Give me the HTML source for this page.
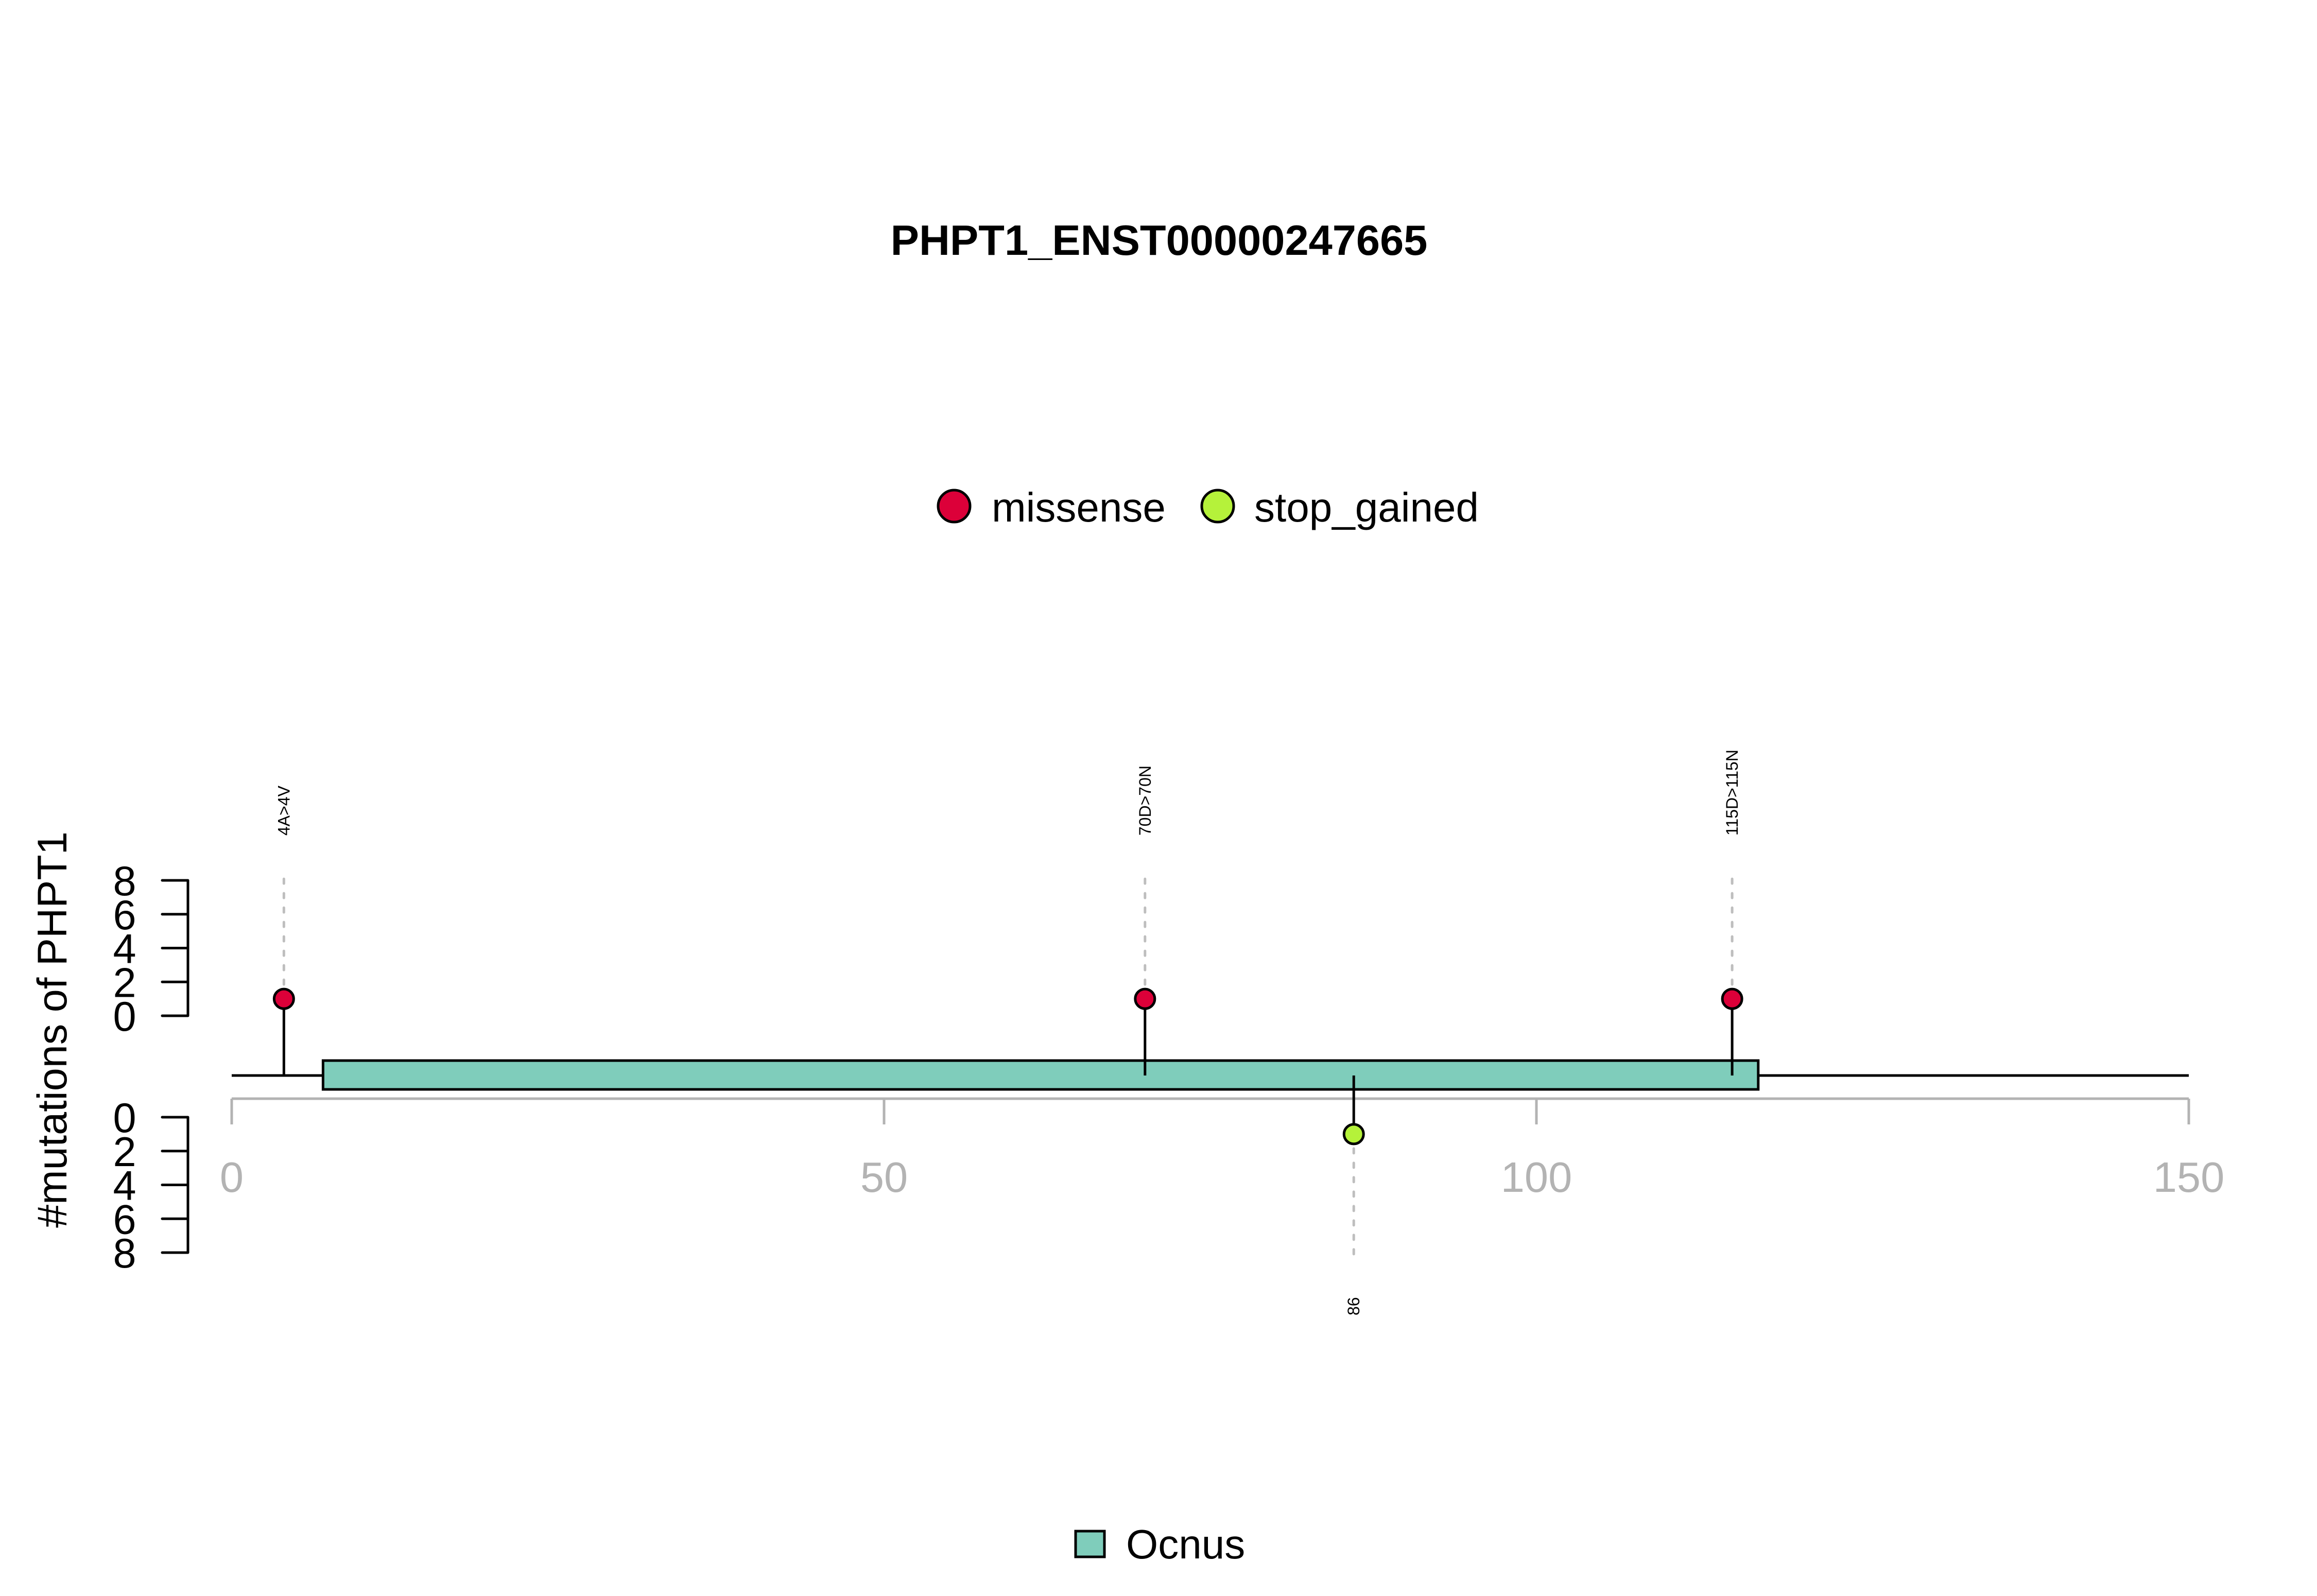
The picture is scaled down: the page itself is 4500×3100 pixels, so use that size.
<!DOCTYPE html>
<html><head><meta charset="utf-8"><style>
html,body{margin:0;padding:0;background:#fff}
svg{display:block}
text{font-family:"Liberation Sans",Arial,sans-serif}
</style></head><body>
<svg id="chart" width="4500" height="3100" viewBox="0 0 4500 3100" xmlns="http://www.w3.org/2000/svg">
<rect width="4500" height="3100" fill="#fff"/>
<text x="2251" y="495" font-size="83" font-weight="bold" text-anchor="middle">PHPT1_ENST00000247665</text>
<g>
<circle cx="1853" cy="983" r="31" fill="#DC0039" stroke="#000" stroke-width="5"/>
<text x="1926" y="1013" font-size="80">missense</text>
<circle cx="2365" cy="983" r="31" fill="#B5F23A" stroke="#000" stroke-width="5"/>
<text x="2436" y="1013" font-size="80">stop_gained</text>
</g>
<text transform="translate(129,2000) rotate(-90)" font-size="81" text-anchor="middle">#mutations of PHPT1</text>
<g id="axes"></g>
<g id="marks"></g>
<g>
<rect x="2089" y="2974" width="56" height="50" fill="#7FCDBB" stroke="#000" stroke-width="5"/>
<text x="2187" y="3027" font-size="80">Ocnus</text>
</g>
</svg>
<script>
const positions = [4, 70, 115, 86];
const counts = [1, 1, 1, 1];
const labels = ["4A>4V", "70D>70N", "115D>115N", "86"];
const types = ["missense", "missense", "missense", "stop_gained"];
const sides = ["up", "up", "up", "down"];
const domainNames = ["Ocnus"];
const domainStart = [7];
const domainEnd = [117];
const xTicks = [0, 50, 100, 150];
const yTicks = [0, 2, 4, 6, 8];
const proteinLength = 150;

const NS = "http://www.w3.org/2000/svg";
const X0 = 450, X1 = 4251;
const xs = v => X0 + (X1 - X0) * v / 150;
const BACK = 2089;
const yUp = v => 1973 - (1973 - 1710) * v / 8;
const yDown = v => 2170 + (2433 - 2170) * v / 8;
const colors = {missense: "#DC0039", stop_gained: "#B5F23A"};
function mk(tag, attrs, parent) {
  const e = document.createElementNS(NS, tag);
  for (const k in attrs) e.setAttribute(k, attrs[k]);
  parent.appendChild(e);
  return e;
}
const axes = document.getElementById("axes");
const marks = document.getElementById("marks");

// x axis
let xa = mk("line", {x1: xs(0), x2: xs(150), y1: 2134, y2: 2134, stroke: "#b3b3b3", "stroke-width": 5}, axes);


xTicks.forEach(t => {
  const l = mk("line", {x1: xs(t), x2: xs(t), y1: 2134, y2: 2184, stroke: "#b3b3b3", "stroke-width": 5}, axes);
  
  
  const tx = mk("text", {x: xs(t), y: 2315, "font-size": 83, fill: "#b3b3b3", "text-anchor": "middle"}, axes);
  tx.textContent = t;
  
  
});

// y axes
[["upper", yUp], ["lower", yDown]].forEach(([nm, f]) => {
  const a = mk("line", {x1: 365, x2: 365, y1: f(0), y2: f(8), stroke: "#000", "stroke-width": 5}, axes);
  
  
  yTicks.forEach(t => {
    const l = mk("line", {x1: 315, x2: 365, y1: f(t), y2: f(t), stroke: "#000", "stroke-width": 5, "stroke-linecap": "round"}, axes);
    
    
    const tx = mk("text", {x: 242, y: f(t) + 29, "font-size": 81, "text-anchor": "middle"}, axes);
    tx.textContent = t;
    
    
  });
});

// backbone
const bb = mk("line", {x1: xs(0), x2: xs(proteinLength), y1: BACK, y2: BACK, stroke: "#000", "stroke-width": 5}, marks);



// domains
domainNames.forEach((n, i) => {
  const r = mk("rect", {x: xs(domainStart[i]), y: 2060, width: xs(domainEnd[i]) - xs(domainStart[i]), height: 56, fill: "#7FCDBB", stroke: "#000", "stroke-width": 5}, marks);
  
  
});

// lollipops
positions.forEach((p, i) => {
  const x = xs(p);
  const up = sides[i] === "up";
  const cy = up ? yUp(counts[i]) : yDown(counts[i]);
  const dashEnd = up ? 1698 : 2445;
  const d = mk("line", {x1: x, x2: x, y1: cy, y2: dashEnd, stroke: "#bebebe", "stroke-width": 5, "stroke-dasharray": "9 19", "stroke-linecap": "round"}, marks);
  
  
  const s = mk("line", {x1: x, x2: x, y1: BACK, y2: cy, stroke: "#000", "stroke-width": 5}, marks);
  
  
  const c = mk("circle", {cx: x, cy: cy, r: 19, fill: colors[types[i]], stroke: "#000", "stroke-width": 5}, marks);
  
  
  const ly = up ? 1623 : 2555;
  const t = mk("text", {transform: "translate(" + (x + 11) + "," + ly + ") rotate(-90)", "font-size": 32}, marks);
  t.textContent = labels[i];
  
  
});
</script>
</body></html>
